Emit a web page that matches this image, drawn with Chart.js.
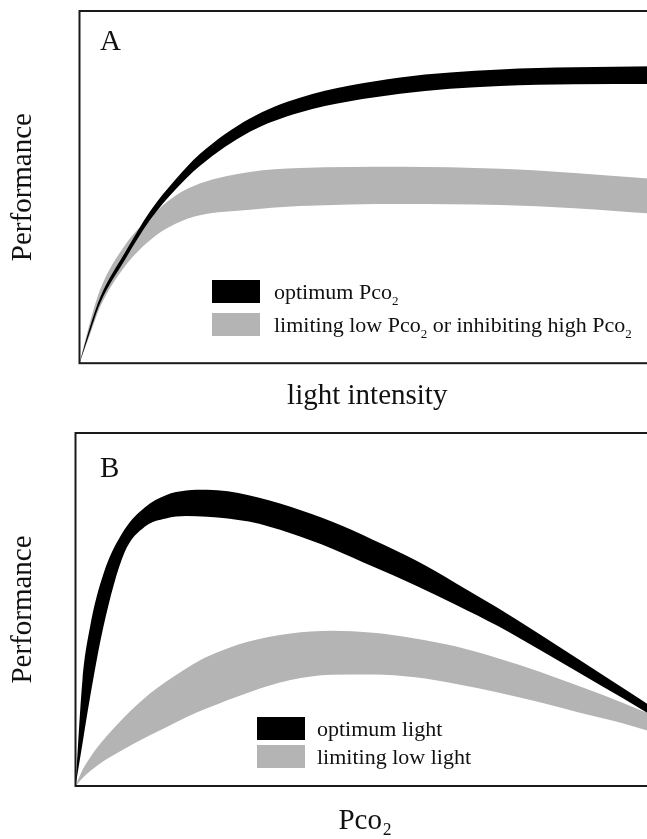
<!DOCTYPE html>
<html>
<head>
<meta charset="utf-8">
<title>Performance vs light intensity and Pco2</title>
<script src="https://cdn.jsdelivr.net/npm/chart.js@4.4.1/dist/chart.umd.min.js"></script>
<style>
body { margin: 0; background: #fff; width: 647px; height: 839px; overflow: hidden; position: relative; }
.panel { position: absolute; left: 0; }
</style>
</head>
<body>
<div class="panel" style="top:0"><canvas id="chartA" width="680" height="420"></canvas></div>
<div class="panel" style="top:420px"><canvas id="chartB" width="680" height="419"></canvas></div>
<script>
// panel A - performance against light intensity (band = upper and lower edge)
var lightX = [0, 1.8, 3.6, 7.9, 12.3, 16.6, 20.9, 29.6, 38.3, 55.7, 73.1, 86, 100]
var optCo2Top = [0, 10.2, 18.7, 31.4, 43.2, 52.0, 59.4, 69.5, 75.4, 81.1, 83.4, 84.0, 84.3]
var optCo2Bottom = [0, 8.8, 17.1, 29.4, 40.8, 49.2, 56.0, 65.7, 71.2, 76.5, 78.7, 79.2, 79.3]
var limCo2Top = [0, 11.5, 21, 33.5, 41.5, 47.5, 51, 54.3, 55.4, 55.8, 55.2, 54.0, 52.3]
var limCo2Bottom = [0, 8, 16, 27.5, 35, 39.5, 42, 43.6, 44.6, 45.2, 44.9, 44.0, 42.4]

// panel B - performance against Pco2
var co2X = [0, 1.2, 2.5, 4.8, 8.4, 12, 15.6, 19.1, 22.7, 29.9, 37.1, 44.2, 51.4, 58.6, 65.7, 72.9, 80.1, 87.2, 94.4, 100]
var optLightTop = [0, 30, 45, 60, 72.5, 79, 82.4, 83.7, 83.9, 82.4, 79.1, 74.9, 69.7, 64.0, 57.4, 50.4, 43.0, 35.5, 27.8, 21.8]
var optLightBottom = [0, 12, 25, 45, 65.9, 73.5, 75.8, 76.5, 76.3, 74.9, 71.6, 67.3, 62.1, 56.9, 51.3, 45.3, 38.6, 31.8, 24.9, 19.4]
var lowLightTop = [0, 4.5, 8, 13, 19.5, 25, 29.5, 33.3, 36.6, 40.9, 43.2, 44.0, 43.4, 41.8, 39.5, 36.2, 32.4, 28.1, 23.6, 19.8]
var lowLightBottom = [0, 2.2, 4.2, 7, 10.5, 13.7, 16.6, 19.5, 22, 26.5, 30.0, 31.5, 31.6, 30.8, 28.9, 26.5, 23.7, 20.7, 17.8, 15.1]

// "~" toggles subscript
var labelsA = ['optimum Pco~2~', 'limiting low Pco~2~ or inhibiting high Pco~2~']
var labelsB = ['optimum light', 'limiting low light']

var BLACK = '#000000'
var GREY = '#b4b4b4'
var FONT = 'Liberation Serif'

function toPoints(xs, ys) {
    return xs.map(function (x, i) { return { x: x, y: ys[i] } })
}

function band(label, xs, top, bottom, color) {
    var common = { borderWidth: 0, pointRadius: 0, cubicInterpolationMode: 'monotone' }
    return [
        Object.assign({ label: label, data: toPoints(xs, top), backgroundColor: color, fill: '+1' }, common),
        Object.assign({ label: '', data: toPoints(xs, bottom), backgroundColor: color, fill: false }, common)
    ]
}

function drawRich(ctx, text, x, y, size) {
    var parts = text.split('~')
    for (var i = 0; i < parts.length; i++) {
        var sub = i % 2 == 1
        ctx.font = (sub ? Math.round(size * 0.6) : size) + 'px "' + FONT + '"'
        ctx.fillText(parts[i], x, sub ? y + size * 0.25 : y)
        x += ctx.measureText(parts[i]).width
    }
}

var panelExtras = {
    id: 'panelExtras',
    afterDatasetsDraw: function (chart, args, opts) {
        var ctx = chart.ctx
        var a = chart.chartArea
        ctx.save()
        ctx.strokeStyle = '#1a1a1a'
        ctx.lineWidth = 2
        ctx.strokeRect(a.left, a.top, a.right - a.left, a.bottom - a.top)

        ctx.fillStyle = '#111'
        ctx.textBaseline = 'alphabetic'
        ctx.font = '29px "' + FONT + '"'
        ctx.fillText(opts.letter, opts.letterX, opts.letterY)

        var lg = opts.legend
        var sets = chart.data.datasets.filter(function (d) { return d.label })
        sets.forEach(function (d, i) {
            var top = lg.top + i * lg.step
            ctx.fillStyle = d.backgroundColor
            ctx.fillRect(lg.left, top, 48, 23)
            ctx.fillStyle = '#111'
            drawRich(ctx, d.label, lg.textX, top + 19, 22)
        })
        ctx.restore()
    }
}

function makeChart(id, xs, bands, xTitle, opts) {
    var datasets = []
    bands.forEach(function (b) { datasets = datasets.concat(band(b[0], xs, b[1], b[2], b[3])) })
    return new Chart(document.getElementById(id), {
        type: 'line',
        data: { datasets: datasets },
        plugins: [panelExtras],
        options: {
            responsive: false,
            animation: false,
            layout: { padding: { left: 0, top: opts.top, right: 25, bottom: 0 } },
            scales: {
                x: {
                    type: 'linear', min: 0, max: 100,
                    grid: { display: false, drawTicks: false },
                    border: { display: false },
                    ticks: { display: false },
                    title: { display: true, text: xTitle, color: '#111', font: { family: FONT, size: 29 }, padding: opts.xPad }
                },
                y: {
                    min: 0, max: 100,
                    grid: { display: false, drawTicks: false },
                    border: { display: false },
                    ticks: { display: false },
                    title: { display: true, text: 'Performance', color: '#111', font: { family: FONT, size: 29 }, padding: opts.yPad }
                }
            },
            plugins: {
                legend: { display: false },
                tooltip: { enabled: false },
                panelExtras: opts.extras
            }
        }
    })
}

makeChart('chartA', lightX, [
    [labelsA[0], optCo2Top, optCo2Bottom, BLACK],
    [labelsA[1], limCo2Top, limCo2Bottom, GREY]
], 'light intensity', {
    top: 11,
    xPad: { top: 16, bottom: 6 },
    yPad: { top: 5.6, bottom: 39.1 },
    extras: { letter: 'A', letterX: 100, letterY: 50, legend: { left: 212, top: 280, step: 33, textX: 274 } }
})

makeChart('chartB', co2X, [
    [labelsB[0], optLightTop, optLightBottom, BLACK],
    [labelsB[1], lowLightTop, lowLightBottom, GREY]
], 'Pco\u2082', {
    top: 13,
    xPad: { top: 18.2, bottom: 0 },
    yPad: { top: 5.6, bottom: 35.1 },
    extras: { letter: 'B', letterX: 100, letterY: 57, legend: { left: 257, top: 297, step: 28, textX: 317 } }
})
</script>
</body>
</html>
